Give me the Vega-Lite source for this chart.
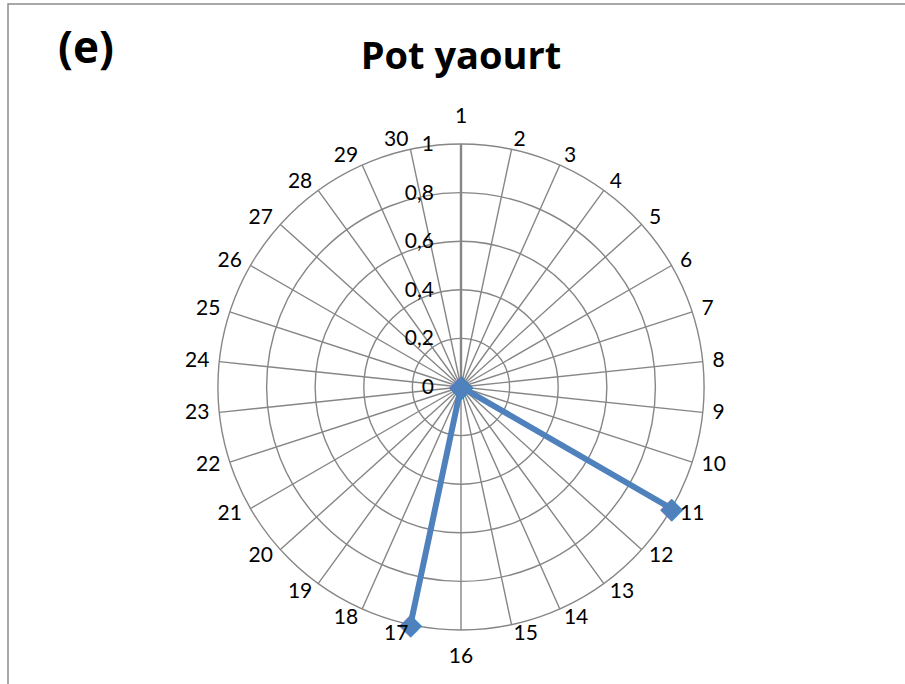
{
  "$schema": "https://vega.github.io/schema/vega-lite/v6.json",
  "padding": {"left": 7, "top": 3, "right": 0, "bottom": 0},
  "background": "white",
  "title": {"text": "(e)", "anchor": "start", "frame": "group", "offset": 0, "baseline": "alphabetic", "dx": 50, "dy": 104, "fontSize": 44, "font": "Open Sans", "fontWeight": "bold", "color": "#000000"},
  "datasets": {
    "spokes": [{"k":1},{"k":2},{"k":3},{"k":4},{"k":5},{"k":6},{"k":7},{"k":8},{"k":9},{"k":10},{"k":11},{"k":12},{"k":13},{"k":14},{"k":15},{"k":16},{"k":17},{"k":18},{"k":19},{"k":20},{"k":21},{"k":22},{"k":23},{"k":24},{"k":25},{"k":26},{"k":27},{"k":28},{"k":29},{"k":30}],
    "rings": [{"v":0.2},{"v":0.4},{"v":0.6},{"v":0.8},{"v":1}],
    "ticks": [{"v":0,"label":"0"},{"v":0.2,"label":"0,2"},{"v":0.4,"label":"0,4"},{"v":0.6,"label":"0,6"},{"v":0.8,"label":"0,8"},{"v":1,"label":"1"}],
    "series": [{"k":1,"value":0},{"k":2,"value":0},{"k":3,"value":0},{"k":4,"value":0},{"k":5,"value":0},{"k":6,"value":0},{"k":7,"value":0},{"k":8,"value":0},{"k":9,"value":0},{"k":10,"value":0},{"k":11,"value":1},{"k":12,"value":0},{"k":13,"value":0},{"k":14,"value":0},{"k":15,"value":0},{"k":16,"value":0},{"k":17,"value":1},{"k":18,"value":0},{"k":19,"value":0},{"k":20,"value":0},{"k":21,"value":0},{"k":22,"value":0},{"k":23,"value":0},{"k":24,"value":0},{"k":25,"value":0},{"k":26,"value":0},{"k":27,"value":0},{"k":28,"value":0},{"k":29,"value":0},{"k":30,"value":0}]
  },
  "vconcat": [
    {
      "width": 906,
      "height": 766,
      "view": {"stroke": "#8c8c8c", "strokeWidth": 1.5},
      "title": {"text": "Pot yaourt", "anchor": "middle", "offset": 0, "baseline": "alphabetic", "dy": 103, "fontSize": 38, "font": "Open Sans", "fontWeight": "bold", "color": "#000000"},
      "layer": [
        {
          "data": {"name": "rings"},
          "mark": {"type": "arc", "filled": false, "stroke": "#868686", "strokeWidth": 1.4},
          "encoding": {
            "theta": {"datum": 1, "type": "quantitative", "scale": {"type": "linear", "domain": [1, 31], "range": [0, 6.283185307179586]}},
            "theta2": {"datum": 31},
            "radius": {"field": "v", "type": "quantitative", "scale": {"type": "linear", "domain": [0, 1], "range": [0, 243], "zero": true}},
            "radius2": {"field": "v"}
          }
        },
        {
          "data": {"name": "spokes"},
          "mark": {"type": "arc", "filled": false, "stroke": "#868686"},
          "encoding": {
            "theta": {"field": "k", "type": "quantitative", "stack": null, "scale": {"type": "linear", "domain": [1, 31], "range": [0, 6.283185307179586]}},
            "theta2": {"field": "k"},
            "radius": {"datum": 1, "type": "quantitative", "scale": {"type": "linear", "domain": [0, 1], "range": [0, 243], "zero": true}},
            "radius2": {"datum": 0},
            "strokeWidth": {"condition": {"test": "datum.k == 1", "value": 2.4}, "value": 1.4}
          }
        },
        {
          "data": {"name": "series"},
          "mark": {"type": "arc", "filled": false, "stroke": "#4F81BD", "strokeWidth": 6, "strokeJoin": "round"},
          "encoding": {
            "theta": {"field": "k", "type": "quantitative", "stack": null, "scale": {"type": "linear", "domain": [1, 31], "range": [0, 6.283185307179586]}},
            "theta2": {"field": "k"},
            "radius": {"field": "value", "type": "quantitative", "scale": {"type": "linear", "domain": [0, 1], "range": [0, 243], "zero": true}},
            "radius2": {"datum": 0}
          }
        },
        {
          "data": {"name": "series"},
          "mark": {"type": "text", "text": "◆", "color": "#4F81BD", "fontSize": 30, "align": "center", "baseline": "middle", "font": "DejaVu Sans"},
          "encoding": {
            "theta": {"field": "k", "type": "quantitative", "stack": null, "scale": {"type": "linear", "domain": [1, 31], "range": [0, 6.283185307179586]}},
            "radius": {"field": "value", "type": "quantitative", "scale": {"type": "linear", "domain": [0, 1], "range": [0, 243], "zero": true}}
          }
        },
        {
          "data": {"name": "ticks"},
          "mark": {"type": "text", "align": "right", "baseline": "middle", "dx": -27, "dy": 1, "font": "Lato", "fontSize": 21, "color": "#000000"},
          "encoding": {
            "theta": {"datum": 1, "type": "quantitative", "scale": {"type": "linear", "domain": [1, 31], "range": [0, 6.283185307179586]}},
            "radius": {"field": "v", "type": "quantitative", "scale": {"type": "linear", "domain": [0, 1], "range": [0, 243], "zero": true}},
            "text": {"field": "label"}
          }
        },
        {
          "data": {"name": "spokes"},
          "transform": [{"filter": "datum.k >= 2 && datum.k <= 15"}],
          "mark": {"type": "text", "align": "left", "baseline": "middle", "radiusOffset": 10, "font": "Lato", "fontSize": 21, "color": "#000000"},
          "encoding": {
            "theta": {"field": "k", "type": "quantitative", "stack": null, "scale": {"type": "linear", "domain": [1, 31], "range": [0, 6.283185307179586]}},
            "radius": {"datum": 1, "type": "quantitative", "scale": {"type": "linear", "domain": [0, 1], "range": [0, 243], "zero": true}},
            "text": {"field": "k"}
          }
        },
        {
          "data": {"name": "spokes"},
          "transform": [{"filter": "datum.k >= 17"}],
          "mark": {"type": "text", "align": "right", "baseline": "middle", "radiusOffset": 10, "font": "Lato", "fontSize": 21, "color": "#000000"},
          "encoding": {
            "theta": {"field": "k", "type": "quantitative", "stack": null, "scale": {"type": "linear", "domain": [1, 31], "range": [0, 6.283185307179586]}},
            "radius": {"datum": 1, "type": "quantitative", "scale": {"type": "linear", "domain": [0, 1], "range": [0, 243], "zero": true}},
            "text": {"field": "k"}
          }
        },
        {
          "data": {"name": "spokes"},
          "transform": [{"filter": "datum.k == 1 || datum.k == 16"}],
          "mark": {"type": "text", "align": "center", "baseline": "middle", "radiusOffset": 27, "font": "Lato", "fontSize": 21, "color": "#000000"},
          "encoding": {
            "theta": {"field": "k", "type": "quantitative", "stack": null, "scale": {"type": "linear", "domain": [1, 31], "range": [0, 6.283185307179586]}},
            "radius": {"datum": 1, "type": "quantitative", "scale": {"type": "linear", "domain": [0, 1], "range": [0, 243], "zero": true}},
            "text": {"field": "k"}
          }
        }
      ]
    }
  ],
  "config": {"view": {"stroke": "#8c8c8c", "strokeWidth": 1.5}, "concat": {"spacing": 0}}
}
